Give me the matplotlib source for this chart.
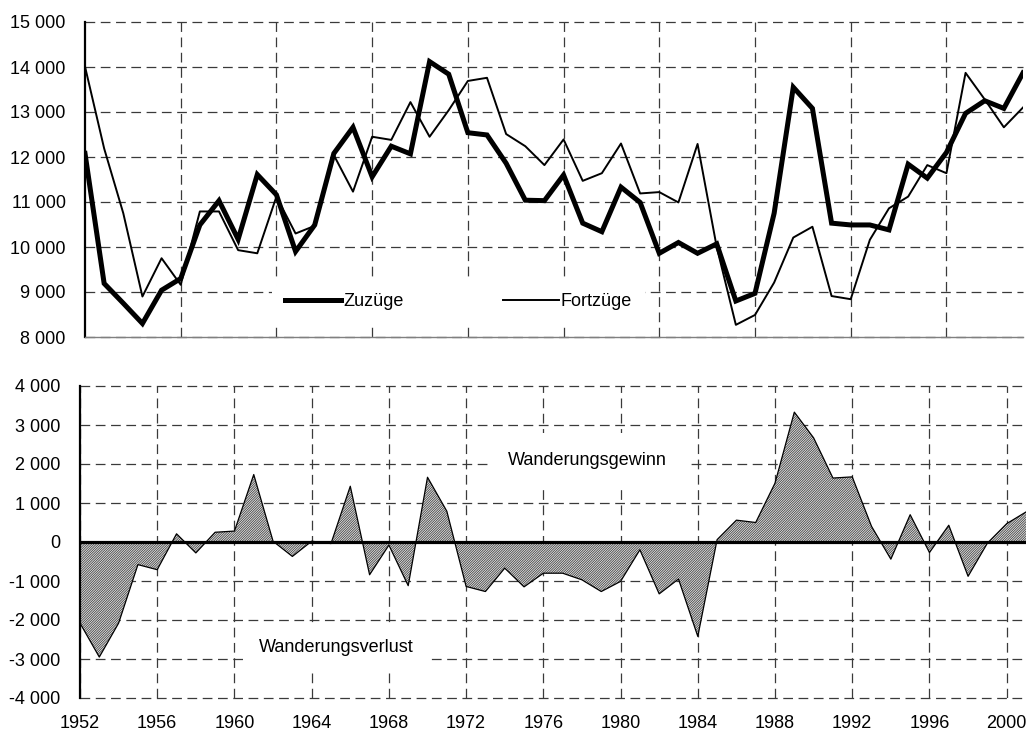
import matplotlib
matplotlib.use("Agg")
import matplotlib.pyplot as plt
from matplotlib.ticker import FuncFormatter, FixedLocator

plt.rcParams['font.family'] = ['Liberation Sans', 'DejaVu Sans']
plt.rcParams['lines.scale_dashes'] = False
plt.rcParams['hatch.linewidth'] = 0.6

# ---------------- data ----------------
years = list(range(1952, 2002))

zuzuege = [12080, 9190, 8750, 8300, 9040, 9300, 10490, 11030, 10170, 11610,
           11160, 9900, 10490, 12080, 12660, 11560, 12240, 12070, 14120, 13840,
           12540, 12490, 11860, 11040, 11030, 11600, 10530, 10340, 11330, 10990,
           9860, 10100, 9860, 10070, 8800, 8970, 10750, 13550, 13080, 10530,
           10490, 10490, 10380, 11840, 11530, 12100, 12970, 13250, 13080, 13870]

fortzuege = [14010, 12190, 10750, 8900, 9750, 9160, 10790, 10790, 9930, 9860,
             11120, 10300, 10470, 12040, 11230, 12450, 12380, 13220, 12450, 13040,
             13690, 13760, 12510, 12240, 11820, 12390, 11470, 11640, 12300, 11190,
             11220, 10990, 12290, 10000, 8270, 8490, 9210, 10210, 10450, 8910,
             8840, 10160, 10860, 11120, 11820, 11640, 13870, 13280, 12660, 13100]

saldo = [-2080, -2950, -2080, -580, -710, 210, -280, 250, 280, 1730,
         20, -370, 20, -40, 1430, -840, -80, -1120, 1660, 790,
         -1140, -1270, -670, -1150, -800, -800, -970, -1270, -1010, -200,
         -1330, -950, -2420, 60, 560, 500, 1510, 3330, 2670, 1640,
         1670, 400, -440, 700, -270, 430, -880, -30, 470, 770]

top_yticks = [8000, 9000, 10000, 11000, 12000, 13000, 14000, 15000]
top_xgrid = [1957, 1962, 1967, 1972, 1977, 1982, 1987, 1992, 1997]
bot_yticks = [-4000, -3000, -2000, -1000, 0, 1000, 2000, 3000, 4000]
bot_xticks = [1952, 1956, 1960, 1964, 1968, 1972, 1976, 1980, 1984, 1988, 1992, 1996, 2000]

label_zu = "Zuzüge"
label_fort = "Fortzüge"
label_gewinn = "Wanderungsgewinn"
label_verlust = "Wanderungsverlust"

# ---------------- figure ----------------
FS = 13
fig = plt.figure(figsize=(10.29, 7.35), dpi=100)
fmt = FuncFormatter(lambda v, p: f"{int(round(v)):,}".replace(",", " "))
grid_kw = dict(color='#3a3a3a', linewidth=0.9, linestyle=(0, (7, 4)))

# ---- top chart ----
ax1 = fig.add_axes([85/1029, 1-337/735, 938/1029, 315/735])
ax1.set_xlim(1952, 2001)
ax1.set_ylim(8000, 15000)
ax1.yaxis.set_major_locator(FixedLocator(top_yticks))
ax1.yaxis.set_major_formatter(fmt)
ax1.xaxis.set_major_locator(FixedLocator(top_xgrid))
ax1.set_xticklabels([])
ax1.tick_params(axis='both', length=0, labelsize=FS, pad=14)
ax1.grid(True, **grid_kw)
ax1.set_axisbelow(True)
for s in ['top', 'right']:
    ax1.spines[s].set_visible(False)
ax1.spines['left'].set_linewidth(1.6)
ax1.spines['left'].set_color('black')
ax1.spines['bottom'].set_linewidth(1.0)
ax1.spines['bottom'].set_color('#808080')
for gl in ax1.get_ygridlines():
    gl.set_clip_on(False)

ax1.plot(years, zuzuege, color='black', lw=3.6, solid_joinstyle='miter', label=label_zu, zorder=3)
ax1.plot(years, fortzuege, color='black', lw=1.4, label=label_fort, zorder=3)

leg = ax1.legend(loc='center', bbox_to_anchor=((458.5-85)/938, (337-301.5)/315),
                 ncol=2, frameon=True, fontsize=FS, handlelength=3.1,
                 handletextpad=0.1, columnspacing=5.5, borderpad=0.75,
                 fancybox=False)
leg.get_frame().set_facecolor('white')
leg.get_frame().set_edgecolor('none')
leg.get_frame().set_alpha(1)
leg.set_zorder(5)

# ---- bottom chart ----
ax2 = fig.add_axes([80/1029, 1-698/735, 946/1029, 312/735])
ax2.set_xlim(1952, 2001)
ax2.set_ylim(-4000, 4000)
ax2.yaxis.set_major_locator(FixedLocator(bot_yticks))
ax2.yaxis.set_major_formatter(fmt)
ax2.xaxis.set_major_locator(FixedLocator(bot_xticks))
ax2.tick_params(axis='both', length=0, labelsize=FS, pad=14)
ax2.tick_params(axis='x', pad=12)
ax2.grid(True, **grid_kw)
ax2.set_axisbelow(True)
for s in ['top', 'right', 'bottom']:
    ax2.spines[s].set_visible(False)
ax2.spines['left'].set_linewidth(1.6)
ax2.spines['left'].set_color('black')
for gl in ax2.get_ygridlines():
    gl.set_clip_on(False)

ax2.fill_between(years, saldo, 0, facecolor='#e8e8e8', edgecolor='#444444',
                 hatch='/' * 14, linewidth=0, zorder=2)
ax2.plot(years, saldo, color='black', lw=0.9, zorder=3)
ax2.axhline(0, color='black', lw=2.3, zorder=4)

ax2.text(1978.3, 2080, label_gewinn, fontsize=FS, ha='center', va='center', zorder=5,
         bbox=dict(boxstyle='square,pad=1.1', facecolor='white', edgecolor='none'))
ax2.text(1965.3, -2700, label_verlust, fontsize=FS, ha='center', va='center', zorder=5,
         bbox=dict(boxstyle='square,pad=0.8', facecolor='white', edgecolor='none'))

fig.savefig("out.png", dpi=100)
